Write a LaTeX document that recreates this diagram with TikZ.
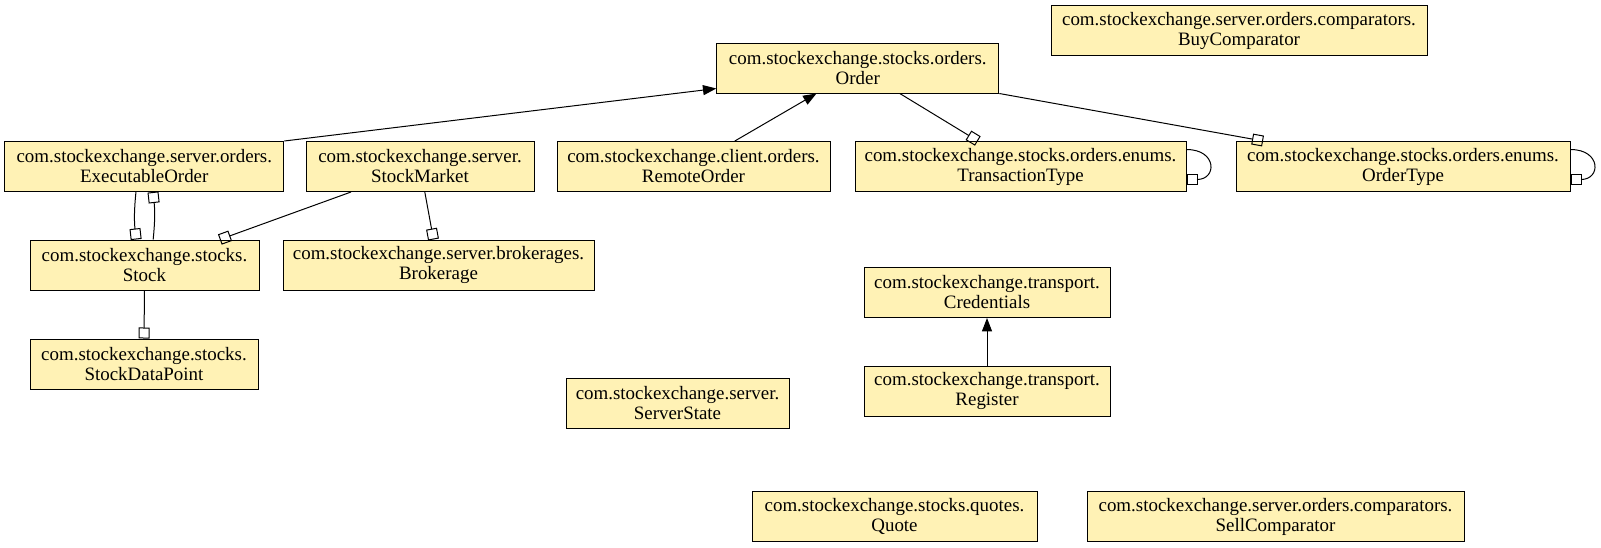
\documentclass[tikz,border=0pt]{standalone}
\usepackage{fontspec}
\setmainfont{Liberation Serif}
\usetikzlibrary{arrows.meta, positioning, calc}
\definecolor{classfill}{RGB}{255, 242, 181}

\begin{document}
\begin{tikzpicture}[x=0.75pt, y=-0.75pt,
        cls/.style={draw, fill=classfill, line width=0.75pt, minimum height=37.5pt, inner sep=0pt, align=center, font=\fontsize{14.2}{15}\selectfont},
        inherit/.style={line width=0.75pt, -{Triangle[length=10pt, width=7.5pt]}},
        assoc/.style={line width=0.75pt, -{Square[open, length=8.25pt, width=8.25pt]}}]
    \useasboundingbox (0,0) rectangle (1601,547);

    % top row
    \node[cls, minimum width=211.5pt] (order) at (857.8,68) {com.stockexchange.stocks.orders.\\Order};
    \node[cls, minimum width=282pt] (buycmp) at (1239,30.5) {com.stockexchange.server.orders.comparators.\\BuyComparator};

    % second row
    \node[cls, minimum width=209.25pt] (exec) at (144.3,166.5) {com.stockexchange.server.orders.\\ExecutableOrder};
    \node[cls, minimum width=171pt] (market) at (420,166.5) {com.stockexchange.server.\\StockMarket};
    \node[cls, minimum width=204.75pt] (remote) at (693.5,166.5) {com.stockexchange.client.orders.\\RemoteOrder};
    \node[cls, minimum width=248.25pt] (trans) at (1020.5,166.5) {com.stockexchange.stocks.orders.enums.\\TransactionType};
    \node[cls, minimum width=250.5pt] (ordtype) at (1403,166.5) {com.stockexchange.stocks.orders.enums.\\OrderType};

    % lower rows
    \node[cls, minimum width=171.75pt] (stock) at (144.5,265) {com.stockexchange.stocks.\\Stock};
    \node[cls, minimum width=233.25pt] (broker) at (438.5,265) {com.stockexchange.server.brokerages.\\Brokerage};
    \node[cls, minimum width=171pt] (datapoint) at (144,364) {com.stockexchange.stocks.\\StockDataPoint};
    \node[cls, minimum width=184.5pt] (cred) at (987,292.5) {com.stockexchange.transport.\\Credentials};
    \node[cls, minimum width=184.5pt] (register) at (987,391) {com.stockexchange.transport.\\Register};
    \node[cls, minimum width=167.25pt] (srvstate) at (677.5,403.5) {com.stockexchange.server.\\ServerState};
    \node[cls, minimum width=213.75pt] (quote) at (894.5,516.5) {com.stockexchange.stocks.quotes.\\Quote};
    \node[cls, minimum width=282.75pt] (sellcmp) at (1275.5,516.5) {com.stockexchange.server.orders.comparators.\\SellComparator};

    % inheritance
    \draw[inherit] (exec.north east) -- ([yshift=3.75pt]order.south west);
    \draw[inherit] ([xshift=31pt]remote.north) -- ([xshift=-31pt]order.south);
    \draw[inherit] (register.north) -- (cred.south);

    % associations
    \draw[assoc] ([xshift=31.5pt]order.south) -- ([xshift=-32pt]trans.north);
    \draw[assoc] (order.south east) -- ([xshift=-105pt]ordtype.north);
    \draw[assoc] ([yshift=12.75pt]trans.east) .. controls +(23pt,0) and +(23pt,0) .. ([yshift=-9.75pt]trans.east);
    \draw[assoc] ([yshift=12.75pt]ordtype.east) .. controls +(23pt,0) and +(23pt,0) .. ([yshift=-9.75pt]ordtype.east);
    \draw[assoc] ([xshift=-6.25pt]exec.south) to[bend right=6] ([xshift=-6.25pt]stock.north);
    \draw[assoc] ([xshift=6.5pt]stock.north) to[bend right=6] ([xshift=6.5pt]exec.south);
    \draw[assoc] ([xshift=-51.75pt]market.south) -- ([xshift=56.5pt]stock.north);
    \draw[assoc] ([xshift=3.6pt]market.south) -- ([xshift=-3.75pt]broker.north);
    \draw[assoc] (stock.south) -- (datapoint.north);
\end{tikzpicture}
\end{document}
